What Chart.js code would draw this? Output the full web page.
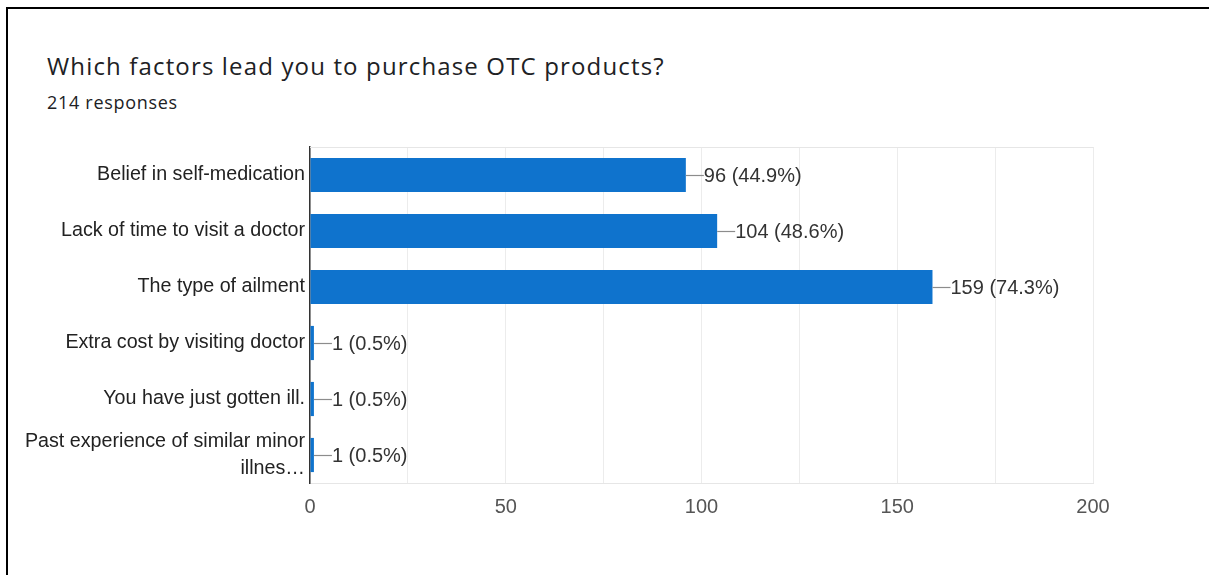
<!DOCTYPE html>
<html>
<head>
<meta charset="utf-8">
<title>Which factors lead you to purchase OTC products?</title>
<script src="https://cdn.jsdelivr.net/npm/chart.js@4/dist/chart.umd.min.js"></script>
<style>
    html, body { margin: 0; padding: 0; background: #fff; }
    #frame {
        position: absolute; left: 6px; top: 7px; right: 0; bottom: 0;
        border-top: 2px solid #000; border-left: 2px solid #000;
    }
    #title {
        position: absolute; left: 47px; top: 49px; white-space: nowrap;
        font: 400 24px "Open Sans", Roboto, Arial, sans-serif; letter-spacing: 1.15px; color: #202124;
    }
    #subtitle {
        position: absolute; left: 47px; top: 90px; white-space: nowrap;
        font: 400 18px "Open Sans", Roboto, Arial, sans-serif; letter-spacing: 0.7px; color: #202124;
    }
    #wrap { position: absolute; left: 0; top: 0; width: 1209px; height: 575px; }
</style>
</head>
<body>
<div id="frame"></div>
<div id="title">Which factors lead you to purchase OTC products?</div>
<div id="subtitle">214 responses</div>
<div id="wrap"><canvas id="chart"></canvas></div>

<script>
// Survey answers (checkbox question, so percentages are of all respondents)
const TOTAL_RESPONSES = 214;
const factors = [
    'Belief in self-medication',
    'Lack of time to visit a doctor',
    'The type of ailment',
    'Extra cost by visiting doctor',
    'You have just gotten ill.',
    ['Past experience of similar minor', 'illnes\u2026']
];
const counts = [96, 104, 159, 1, 1, 1];
const axisTicks = [0, 50, 100, 150, 200];

const FONT = 'Arial, "Liberation Sans", sans-serif';

// leader line + "count (pct%)" next to each bar
const valueLabels = {
    id: 'valueLabels',
    afterDatasetsDraw(chart) {
        const ctx = chart.ctx;
        const meta = chart.getDatasetMeta(0);
        ctx.save();
        ctx.font = '20px ' + FONT;
        ctx.textBaseline = 'middle';
        meta.data.forEach((bar, i) => {
            const v = counts[i];
            const x = bar.x, y = bar.y;
            ctx.strokeStyle = '#8c8c8c';
            ctx.lineWidth = 1.2;
            ctx.beginPath();
            ctx.moveTo(x, y + 0.5);
            ctx.lineTo(x + 18, y + 0.5);
            ctx.stroke();
            ctx.fillStyle = '#333';
            ctx.fillText(`${v} (${(v / TOTAL_RESPONSES * 100).toFixed(1)}%)`, x + 18, y + 1);
        });
        ctx.restore();
    }
};

// light line along the top of the plotting area
const plotFrame = {
    id: 'plotFrame',
    beforeDatasetsDraw(chart) {
        const { ctx, chartArea: a } = chart;
        ctx.save();
        ctx.strokeStyle = '#e6e6e6';
        ctx.lineWidth = 1;
        ctx.beginPath();
        ctx.moveTo(a.left, a.top + 0.5);
        ctx.lineTo(a.right + 0.5, a.top + 0.5);
        ctx.stroke();
        ctx.restore();
    }
};

new Chart(document.getElementById('chart'), {
    type: 'bar',
    data: {
        labels: factors,
        datasets: [{
            data: counts,
            backgroundColor: '#0f73cd',
            barPercentage: 0.61,
            categoryPercentage: 1
        }]
    },
    options: {
        indexAxis: 'y',
        responsive: true,
        maintainAspectRatio: false,
        animation: false,
        layout: { padding: { top: 147, right: 116, bottom: 0, left: 0 } },
        plugins: {
            legend: { display: false },
            tooltip: { enabled: false }
        },
        scales: {
            x: {
                min: 0,
                max: 200,
                afterFit: s => { s.height = 92; },
                ticks: {
                    stepSize: 25,
                    padding: 12,
                    color: '#555',
                    font: { family: FONT, size: 20 },
                    callback: v => axisTicks.includes(v) ? v : ''
                },
                grid: { color: '#ececec', drawTicks: false },
                border: { color: '#e6e6e6' }
            },
            y: {
                afterFit: s => { s.width = 310; },
                ticks: {
                    autoSkip: false,
                    padding: 5,
                    color: '#222',
                    font: { family: FONT, size: 19.7, lineHeight: 1.38 }
                },
                grid: { display: false, drawTicks: false },
                border: { color: '#333', width: 1.5 }
            }
        }
    },
    plugins: [plotFrame, valueLabels]
});
</script>
</body>
</html>
